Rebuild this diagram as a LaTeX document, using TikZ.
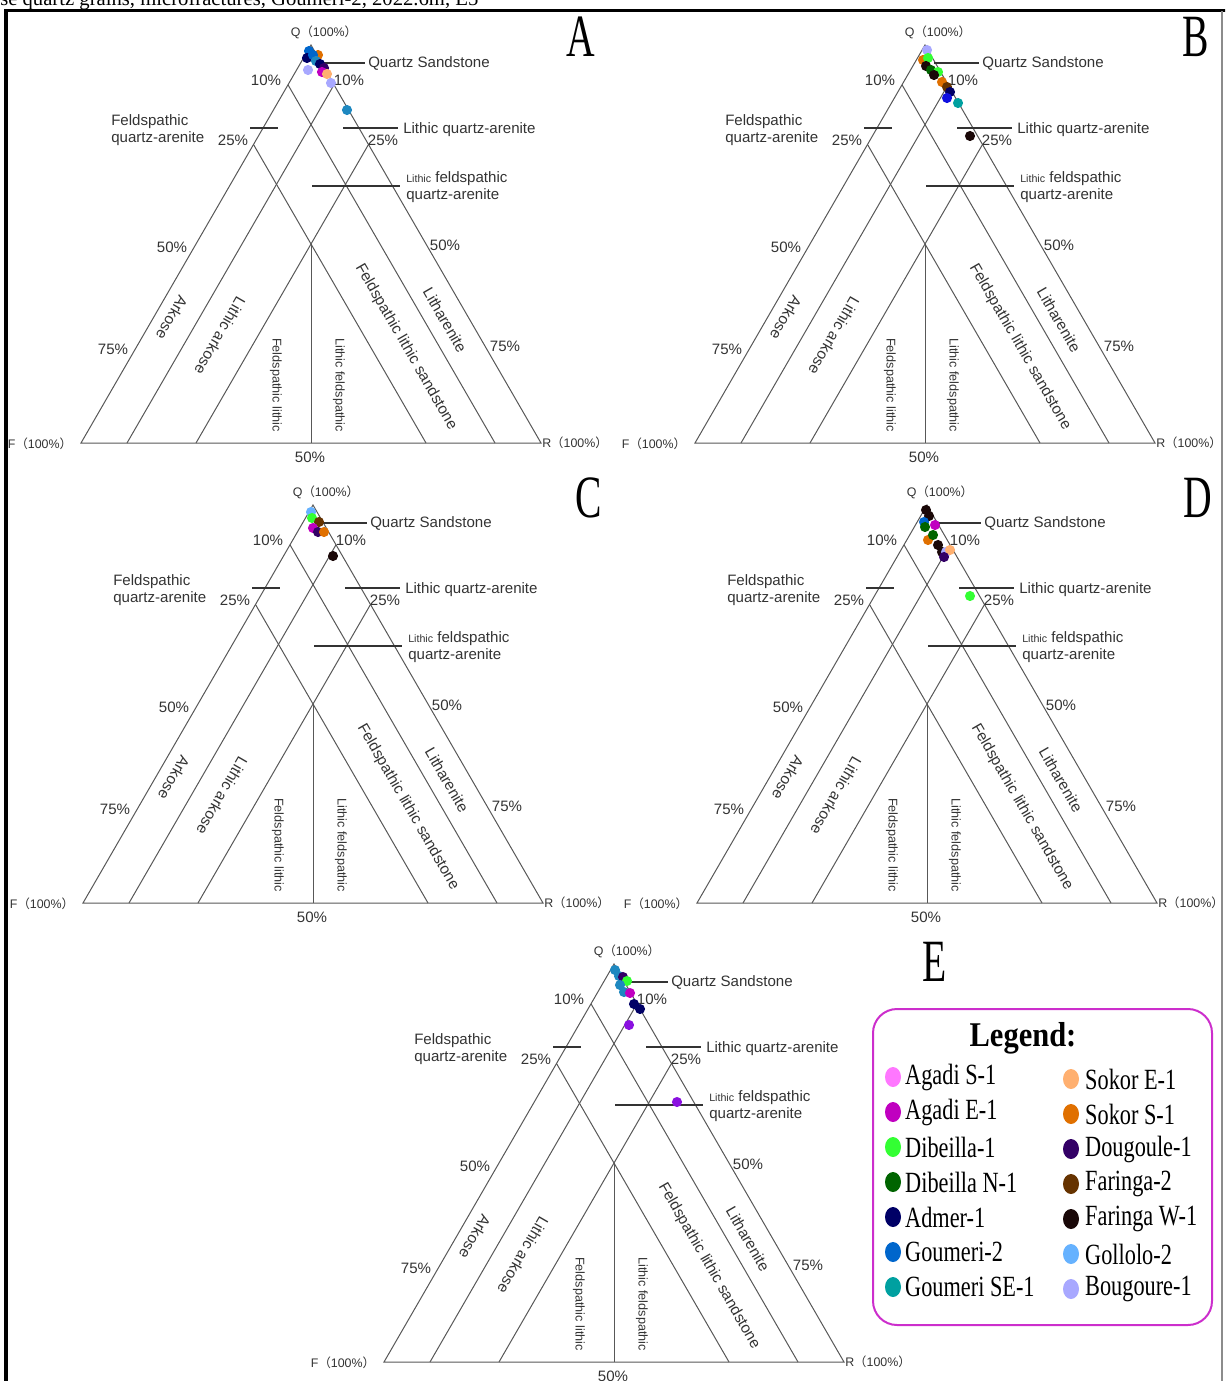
\documentclass[tikz,border=0pt]{standalone}
\usepackage{fontspec}
\setmainfont{Liberation Serif}
\newfontfamily\arial{Liberation Sans}
\newfontfamily\cjk{Noto Sans CJK SC}
\usetikzlibrary{positioning}

\definecolor{linegray}{HTML}{585858}
\definecolor{textgray}{HTML}{333333}
\definecolor{legmag}{HTML}{CC2ECC}
\definecolor{agadiS}{HTML}{FF77FF}
\definecolor{agadiE}{HTML}{C000C0}
\definecolor{dibeilla}{HTML}{33FF33}
\definecolor{dibeillaN}{HTML}{006400}
\definecolor{admer}{HTML}{000066}
\definecolor{goumeri}{HTML}{0066CC}
\definecolor{goumeriSE}{HTML}{00A0A0}
\definecolor{sokorE}{HTML}{FFB070}
\definecolor{sokorS}{HTML}{E07000}
\definecolor{dougoule}{HTML}{330066}
\definecolor{faringa}{HTML}{663300}
\definecolor{faringaW}{HTML}{1A0808}
\definecolor{gollolo}{HTML}{66B2FF}
\definecolor{bougoure}{HTML}{A8A8FF}
\definecolor{steel}{HTML}{1E88C0}
\definecolor{violet}{HTML}{8A10E0}
\definecolor{pureblue}{HTML}{1010E0}

\tikzset{
  tri/.style={draw=linegray, line width=0.75pt},
  lead/.style={draw=textgray, line width=1.1pt},
  lbl/.style={text=textgray, font=\arial\fontsize{11.3}{13}\selectfont, inner sep=0pt},
  zone/.style={text=textgray, font=\arial\fontsize{11.5}{13}\selectfont, inner sep=0pt},
  zonev/.style={text=textgray, font=\arial\fontsize{9.5}{11}\selectfont, inner sep=0pt, rotate=-90},
  apex/.style={text=textgray, font=\arial\fontsize{9.3}{11}\selectfont, inner sep=0pt},
  panel/.style={font=\fontsize{45}{45}\selectfont, xscale=0.66, inner sep=0pt},
  legtext/.style={font=\fontsize{22}{23}\selectfont, xscale=0.76, inner sep=0pt, anchor=west},
  legtitle/.style={font=\bfseries\fontsize{26}{28}\selectfont, xscale=0.88, inner sep=0pt},
}

% one Q-F-R triangle, #1 name, (#2,#3) the F corner in px
\newcommand{\qfrdiagram}[3]{%
  \begin{scope}[shift={(#2,#3)}]
    \coordinate (#1-F) at (0,0);
    \coordinate (#1-R) at (460,0);
    \coordinate (#1-Q) at (230,-398);
    \draw[tri] (#1-F) -- (#1-R) -- (#1-Q) -- cycle;
    \foreach \p in {0.1,0.25}{
      \draw[tri] ({230*(1-\p)},{-398*(1-\p)}) -- ({460*(1-\p)},0);
      \draw[tri] ({460-230*(1-\p)},{-398*(1-\p)}) -- ({460*\p},0);
    }
    \draw[tri] (230,-199) -- (230,0);
    % leaders
    \draw[lead] (239,-380) -- (284,-380);
    \draw[lead] (169,-315) -- (197,-315);
    \draw[lead] (262,-315) -- (317,-315);
    \draw[lead] (231,-257) -- (319,-257);
    \node[lbl, anchor=west] (#1-qs) at (287,-380) {Quartz Sandstone};
    \node[lbl, anchor=west, align=left] (#1-fqa) at (30,-313) {Feldspathic\\quartz-arenite};
    \node[lbl, anchor=west] (#1-lqa) at (322,-313) {Lithic quartz-arenite};
    \node[lbl, anchor=west, align=left] (#1-lfqa) at (325,-256)
      {{\fontsize{8}{9}\selectfont Lithic} feldspathic\\quartz-arenite};
    % percentages
    \foreach \x/\y/\t in {185/-363/10, 268/-363/10, 152/-303/25, 302/-303/25,
        91/-196/50, 364/-198/50, 32/-94/75, 424/-97/75, 229/14/50}
      \node[lbl] (#1-p\t-\x) at (\x,\y) {\t\%};
    % corners
    \node[apex] (#1-qlab) at (243,-411) {Q{\cjk（}100\%{\cjk）}};
    \node[apex] (#1-flab) at (-41,1) {F{\cjk（}100\%{\cjk）}};
    \node[apex] (#1-rlab) at (494,0) {R{\cjk（}100\%{\cjk）}};
    % fields
    \node[zone, rotate=-120] (#1-ark) at (91,-125) {Arkose};
    \node[zone, rotate=-120] (#1-lark) at (139,-107) {Lithic arkose};
    \node[zonev] (#1-fl) at (195,-58) {Feldspathic lithic};
    \node[zonev] (#1-lf) at (258,-58) {Lithic feldspathic};
    \node[zone, rotate=-60] (#1-fls) at (325,-96) {Feldspathic lithic sandstone};
    \node[zone, rotate=-60] (#1-lit) at (364,-123) {Litharenite};
  \end{scope}}

\begin{document}
\begin{tikzpicture}[x=0.75pt, y=-0.75pt]
  \useasboundingbox (0,0) rectangle (1225,1381);
  \clip (0,0) rectangle (1225,1381);

  \node[anchor=base west, font=\fontsize{15.5}{16}\selectfont, inner sep=0pt] (caption)
    at (0,6) {se quartz grains, microfractures, Goumeri-2, 2022.6m, E5};
  \draw[line width=2.6pt] (4,10.5) -- (1230,10.5);
  \draw[line width=2.6pt] (6,9) -- (6,1390);
  \draw[black!45, line width=0.8pt] (1222,11) -- (1222,1390);

  \qfrdiagram{a}{81}{443}
  \qfrdiagram{b}{695}{443}
  \qfrdiagram{c}{83}{903}
  \qfrdiagram{d}{697}{903}
  \qfrdiagram{e}{384}{1362}

  \node[panel] (labA) at (581,37) {A};
  \node[panel] (labB) at (1196,37) {B};
  \node[panel] (labC) at (589,498) {C};
  \node[panel] (labD) at (1198,498) {D};
  \node[panel] (labE) at (935,962) {E};

  % samples A
  \foreach \c/\x/\y in {goumeri/309/51, admer/307/58, sokorS/318/55, goumeri/313/55,
      steel/316/61, admer/320/64, bougoure/308/70, dougoule/324/68, agadiE/322/72,
      sokorE/327/74, bougoure/331/83, steel/347/110}
    \fill[\c] (\x,\y) circle (3.8pt);
  % samples B
  \foreach \c/\x/\y in {bougoure/927/50, sokorS/923/60, dibeilla/928/58, faringaW/926/66,
      dibeillaN/931/70, dibeilla/938/72, faringaW/934/75, sokorS/942/82, faringa/947/87,
      admer/950/92, pureblue/947/98, goumeriSE/958/103, faringaW/970/136}
    \fill[\c] (\x,\y) circle (3.8pt);
  % samples C
  \foreach \c/\x/\y in {gollolo/311/512, dibeilla/312/518, faringa/319/522, agadiE/313/528,
      dougoule/318/532, sokorS/324/532, faringaW/333/556}
    \fill[\c] (\x,\y) circle (3.8pt);
  % samples D
  \foreach \c/\x/\y in {faringaW/926/510, faringaW/929/516, goumeri/924/522, dibeillaN/925/527,
      agadiE/935/525, sokorS/928/540, dibeillaN/933/535, faringaW/938/545, faringaW/942/552,
      bougoure/946/552, sokorE/950/550, dougoule/944/557, dibeilla/970/596}
    \fill[\c] (\x,\y) circle (3.8pt);
  % samples E
  \foreach \c/\x/\y in {steel/615/970, steel/619/976, dougoule/623/977, dibeilla/627/981,
      steel/620/985, steel/624/992, agadiE/630/993, admer/634/1004, admer/640/1009,
      violet/629/1025, violet/677/1102}
    \fill[\c] (\x,\y) circle (3.8pt);

  % legend
  \draw[legmag, line width=1.5pt, rounded corners=18pt] (873,1009) rectangle (1212,1325);
  \node[legtitle] (legtitle) at (1023,1038) {Legend:};
  \foreach \c/\t [count=\i] in {agadiS/Agadi S-1, agadiE/Agadi E-1, dibeilla/Dibeilla-1,
      dibeillaN/Dibeilla N-1, admer/Admer-1, goumeri/Goumeri-2, goumeriSE/Goumeri SE-1}{
    \fill[\c] (893,{1077+35*(\i-1)}) ellipse (6pt and 7.5pt);
    \node[legtext] (legl-\i) at (905,{1077+35*(\i-1)}) {\t};
  }
  \foreach \c/\t [count=\i] in {sokorE/Sokor E-1, sokorS/Sokor S-1, dougoule/Dougoule-1,
      faringa/Faringa-2, faringaW/Faringa W-1, gollolo/Gollolo-2, bougoure/Bougoure-1}{
    \fill[\c] (1071,{1079+35*(\i-1)}) ellipse (6pt and 7.5pt);
    \node[legtext] (legr-\i) at (1085,{1079+35*(\i-1)}) {\t};
  }
\end{tikzpicture}
\end{document}
